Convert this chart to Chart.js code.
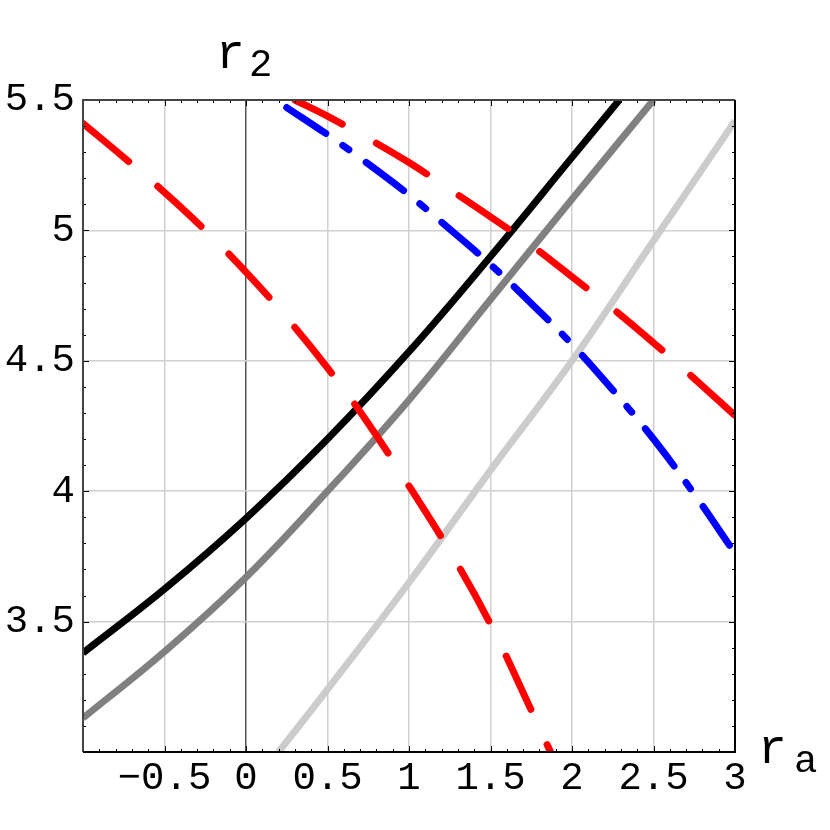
<!DOCTYPE html>
<html>
<head>
<meta charset="utf-8">
<script src="https://cdn.jsdelivr.net/npm/chart.js"></script>
<style>
  body { margin: 0; background: #fff; }
  canvas { display: block; }
</style>
</head>
<body>
<canvas id="c" width="830" height="830"></canvas>
<script>
// tick positions and labels
const xTickValues = [-1, -0.5, 0, 0.5, 1, 1.5, 2, 2.5, 3];
const xTickLabels = ['', '−0.5', '0', '0.5', '1', '1.5', '2', '2.5', '3'];
const yTickValues = [3, 3.5, 4, 4.5, 5, 5.5];
const yTickLabels = ['', '3.5', '4', '4.5', '5', '5.5'];

// curves (x = r_a, y = r_2)
const redSteepX = [-1, -0.75, -0.5, -0.25, 0, 0.25, 0.5, 0.75, 1, 1.25, 1.5, 1.75, 1.868];
const redSteepY = [5.41, 5.28, 5.146, 5.0, 4.84, 4.665, 4.473, 4.26, 4.02, 3.77, 3.49, 3.16, 3.0];
const redUpperX = [0.3, 0.5, 0.75, 1, 1.25, 1.5, 1.75, 2, 2.25, 2.5, 2.75, 3];
const redUpperY = [5.5, 5.438, 5.352, 5.26, 5.157, 5.052, 4.943, 4.822, 4.70, 4.569, 4.432, 4.29];
const blueX = [0.25, 0.5, 0.75, 1, 1.25, 1.5, 1.75, 2, 2.25, 2.5, 2.75, 3];
const blueY = [5.471, 5.367, 5.255, 5.136, 5.005, 4.869, 4.72, 4.563, 4.388, 4.20, 3.989, 3.762];
const blackX = [-1, -0.5, 0, 0.5, 1, 1.5, 2, 2.29];
const blackY = [3.38, 3.625, 3.896, 4.20, 4.535, 4.90, 5.28, 5.5];
const grayX = [-1, -0.5, 0, 0.5, 1, 1.5, 2, 2.5];
const grayY = [3.13, 3.385, 3.67, 4.0, 4.35, 4.735, 5.12, 5.5];
const lightX = [0.2, 0.5, 1, 1.5, 2, 2.5, 3];
const lightY = [3.0, 3.24, 3.65, 4.08, 4.5, 4.96, 5.42];

function pts(xs, ys) {
  return xs.map((x, i) => ({ x: x, y: ys[i] }));
}

function curve(xs, ys, color, dash, offset) {
  return {
    data: pts(xs, ys),
    borderColor: color,
    borderWidth: 7,
    borderDash: dash || [],
    borderDashOffset: offset || 0,
    borderCapStyle: dash ? 'round' : 'butt',
    showLine: true,
    pointRadius: 0,
    tension: 0.4,
    clip: 0
  };
}

// frame, inward minor ticks and the axis names
const framePlugin = {
  id: 'frame',
  afterDraw(chart) {
    const ctx = chart.ctx;
    const a = chart.chartArea;
    const sx = chart.scales.x, sy = chart.scales.y;
    ctx.save();
    ctx.strokeStyle = '#000';
    ctx.lineWidth = 1;
    ctx.beginPath();
    for (let i = -10; i <= 30; i++) {
      const px = Math.round(sx.getPixelForValue(i / 10)) + 0.5;
      const len = i % 5 === 0 ? 6 : 3;
      ctx.moveTo(px, a.bottom); ctx.lineTo(px, a.bottom - len);
      ctx.moveTo(px, a.top); ctx.lineTo(px, a.top + len);
    }
    for (let i = 30; i <= 55; i++) {
      const py = Math.round(sy.getPixelForValue(i / 10)) + 0.5;
      const len = i % 5 === 0 ? 6 : 3;
      ctx.moveTo(a.left, py); ctx.lineTo(a.left + len, py);
      ctx.moveTo(a.right, py); ctx.lineTo(a.right - len, py);
    }
    ctx.stroke();

    ctx.lineWidth = 2;
    ctx.strokeStyle = '#444';
    ctx.beginPath();
    ctx.moveTo(a.left, a.bottom); ctx.lineTo(a.left, a.top); ctx.lineTo(a.right, a.top);
    ctx.stroke();
    ctx.strokeStyle = '#000';
    ctx.beginPath();
    ctx.moveTo(a.right, a.top); ctx.lineTo(a.right, a.bottom); ctx.lineTo(a.left, a.bottom);
    ctx.stroke();

    ctx.fillStyle = '#000';
    ctx.textAlign = 'left';
    ctx.textBaseline = 'alphabetic';
    const x0 = sx.getPixelForValue(0);
    ctx.font = '48px "Liberation Mono"';
    ctx.fillText('r', x0 - 30, a.top - 32);
    ctx.fillText('r', a.right + 23, a.bottom + 11);
    ctx.font = '39px "Liberation Mono"';
    ctx.fillText('2', x0 + 3, a.top - 24);
    ctx.fillText('a', a.right + 59, a.bottom + 20);
    ctx.restore();
  }
};

const tickFont = { family: '"Liberation Mono"', size: 39 };

new Chart(document.getElementById('c'), {
  type: 'scatter',
  data: {
    datasets: [
      curve(redSteepX, redSteepY, '#ff0000', [59, 39], 0),
      curve(redUpperX, redUpperY, '#ff0000', [59, 39], 6),
      curve(blueX, blueY, '#0000ff', [47, 20.5, 7.6, 21.6], 0),
      curve(lightX, lightY, '#cccccc'),
      curve(grayX, grayY, '#808080'),
      curve(blackX, blackY, '#000000')
    ]
  },
  options: {
    responsive: false,
    animation: false,
    devicePixelRatio: 1,
    layout: { padding: { top: 100, right: 95, left: 0, bottom: 0 } },
    plugins: { legend: { display: false }, tooltip: { enabled: false } },
    scales: {
      x: {
        type: 'linear',
        min: -1, max: 3,
        afterBuildTicks: s => { s.ticks = xTickValues.map(v => ({ value: v })); },
        afterFit: s => { s.height = 78; },
        ticks: {
          color: '#000', font: tickFont, padding: 3, maxRotation: 0, autoSkip: false,
          callback: (v, i) => xTickLabels[i]
        },
        grid: {
          drawTicks: false,
          color: c => (c.tick && c.tick.value === 0) ? '#555555' : '#d0d0d0',
          lineWidth: 1.5
        },
        border: { display: false }
      },
      y: {
        type: 'linear',
        min: 3, max: 5.5,
        afterBuildTicks: s => { s.ticks = yTickValues.map(v => ({ value: v })); },
        afterFit: s => { s.width = 83; },
        ticks: {
          color: '#000', font: tickFont, padding: 8, autoSkip: false,
          callback: (v, i) => yTickLabels[i]
        },
        grid: { drawTicks: false, color: '#d0d0d0', lineWidth: 1.5 },
        border: { display: false }
      }
    }
  },
  plugins: [framePlugin]
});
</script>
</body>
</html>
